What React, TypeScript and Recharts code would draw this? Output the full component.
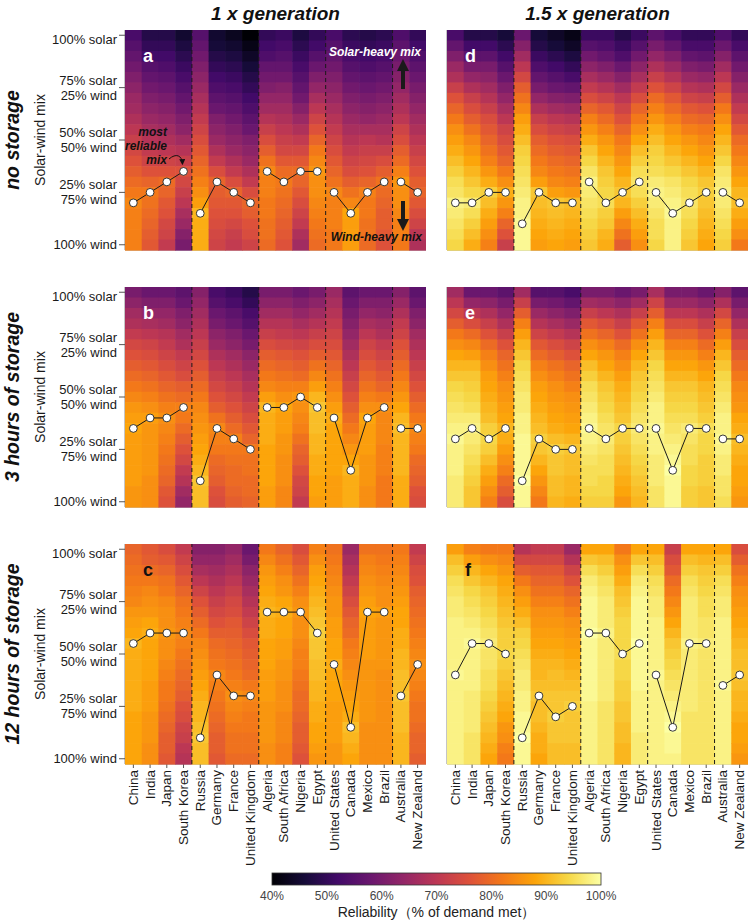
import React from 'react';
import { ComposedChart, Scatter, XAxis, YAxis } from 'recharts';

const FONT = '"Liberation Sans", Arial, Helvetica, sans-serif';

const COUNTRIES = [
  'China', 'India', 'Japan', 'South Korea',
  'Russia', 'Germany', 'France', 'United Kingdom',
  'Algeria', 'South Africa', 'Nigeria', 'Egypt',
  'United States', 'Canada', 'Mexico', 'Brazil',
  'Australia', 'New Zealand',
];
const GROUPS = [[0, 1, 2, 3], [4, 5, 6, 7], [8, 9, 10, 11], [12, 13, 14, 15], [16, 17]];
const GROUP_BREAKS = [3.5, 7.5, 11.5, 15.5];
// solar share of each heatmap row, top row first
const SOLAR_SHARE = [100, 95, 90, 85, 80, 75, 70, 65, 60, 55, 50, 45, 40, 35, 30, 25, 20, 15, 10, 5, 0];
const MIX_TICKS = [0, 25, 50, 75, 100];
const COLORBAR_TICKS = [40, 50, 60, 70, 80, 90, 100];

// reliability (% of demand met): one array per country, rows from 100% solar down to 100% wind
const RELIABILITY_NONE_1X = [
  [53, 55, 57, 59, 61, 63, 65, 66, 68, 70, 72, 74, 76, 78, 80, 82, 84, 83, 83, 83, 83],
  [48, 50, 52, 55, 57, 59, 61, 63, 65, 67, 69, 71, 73, 76, 79, 82, 81, 80, 79, 78, 77],
  [48, 50, 52, 54, 56, 58, 60, 62, 64, 66, 68, 70, 73, 76, 80, 79, 77, 76, 74, 73, 71],
  [45, 47, 49, 51, 53, 55, 57, 59, 61, 63, 66, 69, 72, 76, 74, 72, 70, 67, 65, 62, 60],
  [55, 57, 59, 61, 63, 65, 67, 69, 71, 73, 75, 77, 79, 81, 83, 85, 87, 90, 89, 89, 89],
  [45, 46, 48, 50, 52, 54, 56, 58, 61, 63, 65, 68, 71, 75, 79, 78, 77, 76, 75, 74, 73],
  [43, 45, 47, 49, 51, 53, 55, 57, 59, 61, 63, 65, 68, 71, 75, 79, 77, 76, 74, 72, 71],
  [40, 42, 44, 46, 48, 50, 52, 54, 56, 58, 61, 63, 65, 68, 71, 75, 79, 78, 76, 75, 73],
  [50, 52, 54, 57, 59, 61, 64, 66, 69, 72, 75, 78, 81, 84, 83, 83, 82, 82, 81, 81, 80],
  [51, 53, 55, 57, 59, 62, 64, 66, 68, 70, 72, 74, 77, 80, 82, 81, 80, 79, 78, 77, 76],
  [47, 49, 51, 53, 55, 57, 59, 62, 65, 68, 71, 74, 77, 80, 79, 77, 75, 73, 71, 68, 66],
  [50, 52, 55, 58, 61, 64, 67, 70, 73, 76, 79, 82, 84, 86, 85, 85, 84, 83, 82, 81, 80],
  [53, 55, 57, 59, 61, 63, 65, 67, 69, 71, 73, 75, 77, 79, 81, 84, 83, 83, 83, 82, 82],
  [49, 51, 53, 55, 57, 59, 61, 63, 65, 67, 69, 71, 73, 75, 78, 81, 84, 88, 87, 87, 87],
  [48, 50, 52, 54, 56, 58, 60, 62, 64, 67, 70, 72, 74, 76, 79, 83, 82, 82, 81, 81, 80],
  [49, 51, 53, 55, 57, 59, 61, 63, 65, 67, 69, 72, 75, 78, 81, 80, 79, 78, 78, 77, 76],
  [54, 56, 58, 60, 62, 64, 66, 68, 70, 73, 75, 78, 80, 83, 86, 85, 85, 84, 83, 83, 82],
  [50, 52, 54, 56, 58, 60, 62, 64, 66, 68, 70, 72, 74, 76, 78, 79, 77, 75, 73, 70, 68],
];

const RELIABILITY_NONE_15X = [
  [53, 57, 61, 65, 68, 72, 76, 79, 82, 85, 87, 89, 91, 93, 95, 96, 98, 97, 96, 95, 94],
  [48, 52, 56, 60, 64, 68, 72, 75, 78, 81, 84, 86, 88, 90, 92, 94, 97, 95, 93, 91, 89],
  [48, 52, 56, 60, 63, 66, 69, 72, 75, 77, 79, 81, 83, 86, 89, 93, 91, 89, 87, 85, 83],
  [46, 49, 52, 55, 58, 61, 64, 67, 70, 73, 75, 77, 79, 82, 85, 89, 86, 83, 79, 76, 72],
  [58, 62, 66, 70, 74, 78, 81, 84, 87, 89, 91, 93, 94, 95, 96, 97, 98, 98, 99, 99, 99],
  [46, 48, 51, 54, 57, 60, 64, 68, 72, 75, 78, 80, 82, 84, 87, 92, 91, 90, 89, 88, 87],
  [44, 46, 49, 52, 55, 58, 62, 66, 70, 73, 76, 78, 80, 82, 84, 87, 92, 91, 90, 89, 88],
  [42, 44, 47, 50, 53, 57, 61, 65, 69, 72, 75, 77, 79, 81, 83, 86, 91, 90, 89, 88, 87],
  [51, 55, 59, 63, 67, 71, 75, 79, 83, 86, 89, 92, 94, 96, 98, 97, 96, 95, 94, 93, 92],
  [51, 54, 57, 61, 65, 69, 73, 77, 80, 83, 86, 88, 90, 92, 93, 94, 95, 93, 92, 90, 89],
  [48, 51, 54, 58, 62, 66, 70, 73, 76, 79, 82, 84, 86, 88, 90, 92, 90, 87, 84, 81, 78],
  [51, 55, 59, 63, 67, 71, 75, 79, 82, 85, 88, 91, 93, 95, 96, 95, 93, 91, 89, 87, 85],
  [56, 60, 64, 68, 72, 76, 80, 83, 86, 89, 91, 93, 94, 95, 97, 98, 97, 96, 95, 95, 94],
  [53, 57, 61, 65, 69, 73, 77, 80, 83, 86, 88, 90, 92, 94, 96, 97, 98, 99, 98, 98, 98],
  [50, 53, 57, 61, 65, 69, 73, 77, 80, 83, 86, 88, 90, 92, 94, 95, 96, 95, 94, 93, 92],
  [50, 53, 56, 60, 64, 68, 72, 76, 79, 82, 84, 86, 88, 90, 92, 93, 92, 91, 90, 89, 88],
  [54, 58, 62, 66, 70, 74, 78, 82, 85, 88, 90, 92, 94, 96, 97, 98, 97, 96, 95, 94, 93],
  [50, 53, 56, 59, 62, 65, 68, 71, 74, 77, 80, 82, 84, 86, 88, 90, 91, 89, 87, 85, 82],
];

const RELIABILITY_3H_1X = [
  [60, 63, 66, 68, 71, 74, 76, 78, 80, 82, 84, 86, 87, 88, 87, 87, 87, 87, 87, 86, 86],
  [58, 61, 64, 67, 70, 73, 75, 77, 79, 81, 83, 85, 87, 86, 86, 86, 86, 86, 85, 85, 85],
  [58, 61, 64, 66, 69, 71, 73, 75, 77, 79, 81, 83, 85, 84, 83, 82, 81, 80, 79, 77, 76],
  [56, 58, 61, 63, 66, 68, 71, 73, 75, 78, 80, 83, 82, 80, 78, 76, 74, 71, 69, 66, 64],
  [62, 64, 66, 68, 70, 72, 74, 76, 78, 80, 82, 84, 85, 86, 87, 88, 89, 90, 92, 91, 91],
  [53, 55, 58, 60, 63, 65, 68, 70, 72, 74, 76, 78, 81, 84, 83, 82, 80, 79, 78, 76, 75],
  [51, 53, 56, 58, 61, 63, 66, 68, 70, 72, 74, 76, 78, 80, 83, 82, 81, 80, 80, 79, 78],
  [48, 50, 53, 55, 58, 60, 63, 65, 67, 69, 71, 73, 75, 77, 79, 82, 81, 81, 80, 80, 79],
  [60, 63, 66, 69, 72, 75, 78, 80, 82, 84, 87, 90, 89, 89, 89, 88, 88, 88, 88, 87, 87],
  [60, 63, 66, 69, 71, 74, 77, 79, 81, 83, 85, 88, 87, 87, 86, 86, 85, 85, 85, 84, 84],
  [58, 61, 64, 67, 70, 73, 76, 78, 80, 83, 86, 85, 84, 83, 81, 79, 78, 76, 74, 73, 71],
  [60, 63, 66, 69, 72, 75, 78, 81, 84, 87, 90, 92, 91, 91, 90, 90, 89, 89, 88, 88, 87],
  [65, 67, 69, 71, 73, 75, 77, 79, 81, 83, 85, 87, 89, 88, 88, 88, 88, 88, 87, 87, 87],
  [56, 58, 60, 62, 64, 66, 68, 70, 72, 74, 76, 78, 80, 82, 84, 86, 88, 90, 89, 89, 89],
  [58, 61, 64, 67, 70, 73, 75, 77, 79, 81, 83, 85, 88, 87, 87, 87, 86, 86, 86, 85, 85],
  [58, 61, 63, 66, 68, 71, 73, 75, 77, 79, 82, 85, 84, 84, 84, 83, 83, 83, 82, 82, 82],
  [62, 65, 68, 71, 73, 76, 78, 80, 82, 84, 86, 88, 90, 91, 90, 90, 90, 90, 89, 89, 89],
  [56, 58, 61, 63, 66, 68, 70, 72, 74, 76, 78, 80, 82, 84, 83, 82, 80, 79, 78, 76, 75],
];

const RELIABILITY_3H_15X = [
  [66, 70, 74, 78, 82, 85, 88, 90, 92, 94, 95, 96, 97, 98, 99, 98, 98, 98, 97, 97, 97],
  [58, 64, 70, 75, 80, 84, 87, 90, 92, 93, 94, 95, 97, 98, 97, 96, 95, 94, 93, 92, 92],
  [58, 63, 68, 72, 76, 80, 83, 85, 87, 88, 89, 90, 91, 93, 94, 93, 91, 89, 87, 85, 83],
  [56, 60, 64, 68, 72, 76, 79, 81, 83, 85, 86, 87, 88, 90, 89, 87, 85, 83, 80, 78, 75],
  [66, 72, 78, 83, 87, 90, 92, 94, 95, 96, 97, 97, 98, 98, 99, 99, 99, 99, 100, 99, 99],
  [55, 60, 65, 69, 73, 77, 80, 83, 85, 87, 88, 89, 90, 91, 93, 92, 90, 88, 86, 84, 82],
  [55, 59, 63, 67, 71, 75, 78, 81, 83, 85, 86, 87, 88, 89, 91, 93, 92, 92, 91, 91, 90],
  [53, 57, 61, 65, 69, 73, 76, 79, 81, 83, 85, 86, 87, 88, 90, 92, 91, 91, 90, 90, 89],
  [60, 66, 72, 77, 81, 85, 88, 91, 93, 95, 96, 97, 98, 99, 98, 97, 96, 95, 95, 94, 93],
  [60, 65, 70, 75, 79, 83, 86, 88, 90, 92, 93, 94, 95, 96, 97, 96, 95, 95, 94, 94, 93],
  [58, 63, 68, 72, 76, 80, 83, 85, 87, 89, 90, 91, 92, 94, 93, 92, 91, 90, 89, 88, 86],
  [60, 66, 72, 77, 81, 85, 88, 90, 92, 93, 94, 95, 96, 97, 96, 95, 94, 93, 92, 91, 90],
  [67, 73, 78, 83, 87, 90, 92, 94, 95, 96, 97, 98, 98, 99, 98, 98, 97, 97, 97, 96, 96],
  [60, 65, 70, 75, 79, 83, 86, 88, 90, 92, 93, 94, 95, 96, 97, 98, 99, 100, 99, 99, 99],
  [60, 65, 70, 75, 79, 83, 86, 88, 90, 92, 93, 94, 95, 97, 96, 95, 95, 94, 94, 93, 93],
  [58, 63, 68, 72, 76, 80, 83, 86, 88, 90, 91, 92, 93, 95, 94, 94, 93, 93, 93, 92, 92],
  [62, 68, 74, 79, 83, 87, 90, 92, 94, 95, 96, 97, 98, 98, 99, 98, 97, 97, 96, 96, 95],
  [56, 60, 64, 68, 72, 75, 78, 80, 82, 84, 85, 86, 88, 89, 91, 90, 89, 88, 88, 87, 86],
];

const RELIABILITY_12H_1X = [
  [79, 80, 81, 82, 83, 84, 86, 87, 88, 90, 89, 89, 89, 89, 89, 89, 88, 88, 88, 88, 88],
  [77, 78, 80, 82, 84, 85, 86, 88, 89, 88, 88, 88, 88, 87, 87, 87, 86, 86, 86, 85, 85],
  [75, 77, 79, 81, 82, 84, 85, 85, 86, 85, 85, 84, 83, 82, 82, 81, 80, 79, 78, 78, 77],
  [71, 73, 75, 77, 79, 81, 82, 83, 84, 83, 82, 81, 80, 79, 78, 76, 75, 73, 72, 70, 69],
  [62, 64, 67, 70, 73, 76, 78, 80, 82, 84, 85, 86, 87, 88, 89, 90, 90, 91, 92, 91, 91],
  [62, 64, 66, 68, 70, 72, 74, 76, 78, 80, 81, 82, 84, 83, 82, 81, 80, 79, 78, 78, 77],
  [64, 66, 68, 70, 72, 74, 75, 77, 78, 79, 80, 81, 82, 83, 85, 84, 83, 82, 81, 81, 80],
  [58, 60, 63, 65, 67, 69, 71, 73, 75, 77, 78, 79, 80, 82, 84, 83, 82, 82, 81, 81, 80],
  [82, 84, 86, 87, 88, 89, 90, 89, 89, 88, 88, 88, 87, 87, 87, 86, 86, 86, 86, 85, 85],
  [79, 81, 83, 85, 86, 88, 89, 88, 88, 87, 87, 86, 86, 85, 85, 85, 84, 84, 84, 83, 83],
  [75, 77, 79, 81, 83, 85, 86, 85, 85, 84, 83, 83, 82, 81, 80, 80, 79, 78, 78, 77, 76],
  [83, 85, 87, 88, 89, 90, 91, 92, 93, 92, 92, 91, 91, 90, 90, 89, 89, 88, 88, 87, 86],
  [81, 82, 83, 84, 85, 86, 86, 87, 87, 88, 88, 89, 88, 88, 88, 87, 87, 87, 87, 86, 86],
  [65, 67, 69, 71, 73, 75, 77, 79, 80, 82, 83, 84, 85, 86, 87, 88, 89, 91, 90, 89, 88],
  [81, 83, 84, 85, 86, 87, 88, 87, 87, 87, 87, 86, 86, 86, 86, 86, 86, 85, 85, 85, 85],
  [81, 82, 83, 84, 85, 85, 87, 86, 86, 86, 86, 86, 85, 85, 85, 85, 85, 85, 85, 85, 85],
  [82, 83, 84, 85, 86, 87, 88, 88, 89, 89, 90, 90, 91, 91, 92, 91, 91, 91, 90, 90, 90],
  [71, 73, 75, 76, 78, 79, 80, 81, 82, 83, 84, 85, 84, 83, 82, 81, 81, 80, 79, 79, 78],
];

const RELIABILITY_12H_15X = [
  [87, 91, 93, 95, 96, 97, 97, 98, 98, 98, 98, 98, 99, 98, 98, 98, 98, 98, 98, 98, 98],
  [83, 87, 90, 92, 94, 95, 96, 97, 98, 99, 98, 98, 98, 98, 97, 97, 97, 97, 96, 96, 96],
  [82, 85, 88, 90, 92, 93, 94, 95, 96, 97, 96, 96, 95, 95, 94, 93, 92, 91, 90, 89, 88],
  [82, 84, 86, 88, 89, 90, 91, 92, 93, 93, 94, 93, 92, 91, 90, 89, 88, 86, 85, 83, 82],
  [69, 74, 78, 82, 85, 87, 89, 91, 93, 94, 95, 96, 97, 97, 98, 98, 99, 99, 100, 99, 99],
  [71, 74, 77, 79, 81, 83, 85, 86, 87, 88, 89, 90, 90, 91, 92, 91, 91, 90, 89, 89, 88],
  [71, 74, 77, 79, 81, 83, 85, 86, 87, 88, 89, 90, 91, 91, 92, 92, 93, 92, 92, 91, 91],
  [65, 69, 73, 76, 79, 81, 83, 85, 86, 87, 88, 89, 90, 91, 92, 93, 92, 92, 92, 91, 91],
  [88, 92, 95, 97, 98, 99, 99, 99, 100, 99, 99, 99, 99, 99, 99, 98, 98, 98, 98, 98, 98],
  [88, 91, 93, 95, 96, 97, 97, 97, 98, 97, 97, 97, 97, 97, 97, 96, 96, 96, 96, 96, 96],
  [82, 85, 87, 89, 91, 92, 93, 94, 94, 94, 95, 94, 94, 93, 93, 92, 92, 91, 91, 90, 90],
  [88, 92, 95, 97, 98, 99, 99, 99, 99, 100, 99, 99, 99, 99, 98, 98, 98, 98, 97, 97, 97],
  [88, 91, 93, 95, 96, 97, 97, 98, 98, 98, 98, 98, 99, 98, 98, 98, 98, 98, 98, 98, 98],
  [72, 75, 77, 80, 82, 84, 86, 88, 90, 92, 93, 94, 95, 96, 97, 98, 99, 100, 99, 99, 98],
  [88, 91, 93, 95, 96, 97, 97, 97, 97, 98, 97, 97, 97, 97, 97, 97, 96, 96, 96, 96, 96],
  [88, 90, 92, 93, 94, 95, 95, 96, 96, 97, 96, 96, 96, 96, 96, 96, 96, 96, 96, 96, 96],
  [88, 91, 93, 95, 96, 97, 97, 98, 98, 98, 98, 98, 98, 99, 98, 98, 98, 98, 98, 98, 98],
  [75, 78, 81, 83, 85, 86, 87, 88, 89, 90, 91, 91, 92, 91, 90, 90, 89, 88, 88, 87, 86],
];

// most reliable mix (% solar) per country
const BEST_NONE_1X = [20, 25, 30, 35, 15, 30, 25, 20, 35, 30, 35, 35, 25, 15, 25, 30, 30, 25];
const BEST_NONE_15X = [20, 20, 25, 25, 10, 25, 20, 20, 30, 20, 25, 30, 25, 15, 20, 25, 25, 20];
const BEST_3H_1X = [35, 40, 40, 45, 10, 35, 30, 25, 45, 45, 50, 45, 40, 15, 40, 45, 35, 35];
const BEST_3H_15X = [30, 35, 30, 35, 10, 30, 25, 25, 35, 30, 35, 35, 35, 15, 35, 35, 30, 30];
const BEST_12H_1X = [55, 60, 60, 60, 10, 40, 30, 30, 70, 70, 70, 60, 45, 15, 70, 70, 30, 45];
const BEST_12H_15X = [40, 55, 55, 50, 10, 30, 20, 25, 60, 60, 50, 55, 40, 15, 55, 55, 35, 40];

const INFERNO = ['#000004', '#160b39', '#420a68', '#6a176e', '#932667', '#bc3754', '#dd513a', '#f37819', '#fca50a', '#f6d746', '#fcffa4'];

const hexRgb = (h: string) => [1, 3, 5].map((k) => parseInt(h.slice(k, k + 2), 16));

function inferno(v: number) {
  const t = Math.max(0, Math.min(1, (v - 40) / 60)) * 10;
  const i = Math.min(9, Math.floor(t));
  const f = t - i;
  const a = hexRgb(INFERNO[i]);
  const b = hexRgb(INFERNO[i + 1]);
  const c = a.map((x, k) => Math.round(x + (b[k] - x) * f));
  return `rgb(${c[0]},${c[1]},${c[2]})`;
}

const PLOT_W = 301;
const PLOT_H = 220;
const ROW_TOPS = [30, 287, 544];
const COL_LEFTS = [0, 446];
const Y_AXIS_W = [125, 1];
const Y_DOMAIN = [-2.5, 102.5];

const PANELS = [
  { grid: RELIABILITY_NONE_1X, best: BEST_NONE_1X, col: 0, row: 0, letter: 'a', letterColor: '#fff' },
  { grid: RELIABILITY_3H_1X, best: BEST_3H_1X, col: 0, row: 1, letter: 'b', letterColor: '#fff' },
  { grid: RELIABILITY_12H_1X, best: BEST_12H_1X, col: 0, row: 2, letter: 'c', letterColor: '#111' },
  { grid: RELIABILITY_NONE_15X, best: BEST_NONE_15X, col: 1, row: 0, letter: 'd', letterColor: '#fff' },
  { grid: RELIABILITY_3H_15X, best: BEST_3H_15X, col: 1, row: 1, letter: 'e', letterColor: '#fff' },
  { grid: RELIABILITY_12H_15X, best: BEST_12H_15X, col: 1, row: 2, letter: 'f', letterColor: '#111' },
];

const ROW_TITLES = ['no storage', '3 hours of storage', '12 hours of storage'];
const COL_TITLES = ['1 x generation', '1.5 x generation'];

const MixTick = (p: any) => {
  const v = p.payload.value;
  const lines = v === 100 ? ['100% solar'] : v === 0 ? ['100% wind'] : [`${v}% solar`, `${100 - v}% wind`];
  const dy = lines.length === 1 ? [0] : [-7.5, 7.5];
  return (
    <g>
      {lines.map((t, i) => (
        <text key={i} x={p.x} y={p.y + dy[i]} textAnchor="end" dominantBaseline="central" fontSize={13} fontFamily={FONT} fill="#1a1a1a">
          {t}
        </text>
      ))}
    </g>
  );
};

const CountryTick = (p: any) => (
  <text
    transform={`translate(${p.x},${p.y}) rotate(-90)`}
    textAnchor="end"
    dominantBaseline="central"
    fontSize={13.5}
    fontFamily={FONT}
    fill="#1a1a1a"
  >
    {COUNTRIES[p.payload.value]}
  </text>
);

function Panel({ grid, best, col, row }: any) {
  const yw = Y_AXIS_W[col];
  const withNames = row === 2;
  const xh = withNames ? 110 : 8;
  const cellW = PLOT_W / COUNTRIES.length;
  const cellH = PLOT_H / SOLAR_SHARE.length;
  const cells = grid.flatMap((colVals: number[], i: number) =>
    colVals.map((v, j) => ({ x: i, y: SOLAR_SHARE[j], v }))
  );
  return (
    <div style={{ position: 'absolute', left: COL_LEFTS[col], top: ROW_TOPS[row] }}>
      <ComposedChart width={yw + PLOT_W} height={PLOT_H + xh} margin={{ top: 0, right: 0, bottom: 0, left: 0 }}>
        <XAxis
          type="number"
          dataKey="x"
          domain={[-0.5, COUNTRIES.length - 0.5]}
          ticks={COUNTRIES.map((_, i) => i)}
          interval={0}
          height={xh}
          tickSize={4}
          tickLine={{ stroke: '#555' }}
          axisLine={{ stroke: '#8a8a8a' }}
          tick={withNames ? <CountryTick /> : false}
        />
        <YAxis
          type="number"
          dataKey="y"
          domain={Y_DOMAIN}
          ticks={MIX_TICKS}
          width={yw}
          tickSize={6}
          tickLine={col === 0 ? { stroke: '#555' } : false}
          axisLine={{ stroke: '#8a8a8a' }}
          tick={col === 0 ? <MixTick /> : false}
        />
        <Scatter
          data={cells}
          isAnimationActive={false}
          shape={(p: any) => (
            <rect
              x={p.cx - cellW / 2}
              y={p.cy - cellH / 2}
              width={cellW + 0.6}
              height={cellH + 0.6}
              fill={inferno(p.payload.v)}
            />
          )}
        />
        {/* dashed separators between regions */}
        {GROUP_BREAKS.map((b) => (
          <Scatter
            key={`sep-${b}`}
            data={Y_DOMAIN.map((y) => ({ x: b, y }))}
            isAnimationActive={false}
            line={{ stroke: '#1a1a1a', strokeWidth: 1, strokeDasharray: '4 3' }}
            lineType="joint"
            shape={() => <g />}
          />
        ))}
        {GROUPS.map((g, k) => (
          <Scatter
            key={k}
            data={g.map((i) => ({ x: i, y: best[i] }))}
            isAnimationActive={false}
            line={{ stroke: '#1a1a1a', strokeWidth: 1 }}
            lineType="joint"
            shape={(p: any) => <circle cx={p.cx} cy={p.cy} r={3.9} fill="#fff" stroke="#222" strokeWidth={0.9} />}
          />
        ))}
      </ComposedChart>
    </div>
  );
}

export default function App() {
  const barX0 = 272;
  const barX1 = 601;
  const barW = barX1 - barX0;
  const plotLeft = (col: number) => COL_LEFTS[col] + Y_AXIS_W[col];
  return (
    <div style={{ position: 'absolute', left: 0, top: 0, width: 748, height: 920, background: '#fff', fontFamily: FONT }}>
      {PANELS.map((p) => (
        <Panel key={p.letter} {...p} />
      ))}
      <svg width={748} height={920} style={{ position: 'absolute', left: 0, top: 0, pointerEvents: 'none' }}>
        <defs>
          <linearGradient id="inferno" x1="0" x2="1" y1="0" y2="0">
            {INFERNO.map((c, i) => (
              <stop key={i} offset={`${i * 10}%`} stopColor={c} />
            ))}
          </linearGradient>
          <marker id="ah" viewBox="0 0 10 10" refX="8" refY="5" markerWidth="6" markerHeight="6" orient="auto">
            <path d="M0,0 L10,5 L0,10 z" fill="#111" />
          </marker>
        </defs>

        {COL_TITLES.map((t, c) => (
          <text key={t} x={plotLeft(c) + PLOT_W / 2} y={13} textAnchor="middle" dominantBaseline="central" fontSize={19} fontWeight="bold" fontStyle="italic" fill="#111">
            {t}
          </text>
        ))}

        {ROW_TITLES.map((t, r) => {
          const cy = ROW_TOPS[r] + PLOT_H / 2;
          return (
            <g key={t}>
              <text transform={`translate(12,${cy}) rotate(-90)`} textAnchor="middle" dominantBaseline="central" fontSize={19.5} fontWeight="bold" fontStyle="italic" fill="#111">
                {t}
              </text>
              <text transform={`translate(40,${cy}) rotate(-90)`} textAnchor="middle" dominantBaseline="central" fontSize={14} fill="#1a1a1a">
                Solar-wind mix
              </text>
            </g>
          );
        })}

        {PANELS.map((p) => (
          <text key={p.letter} x={plotLeft(p.col) + 18} y={ROW_TOPS[p.row] + 32} fontSize={18} fontWeight="bold" fill={p.letterColor}>
            {p.letter}
          </text>
        ))}

        {/* panel a annotations */}
        <g fontSize={12} fontWeight="bold" fontStyle="italic" fill="#111" textAnchor="end">
          <text x={167} y={136}>most</text>
          <text x={167} y={150}>reliable</text>
          <text x={167} y={164}>mix</text>
        </g>
        <path d="M169,159 C176,153 182,155 182.5,164" fill="none" stroke="#111" strokeWidth={1} markerEnd="url(#ah)" />
        <text x={421} y={56} textAnchor="end" fontSize={12} fontWeight="bold" fontStyle="italic" fill="#fff">
          Solar-heavy mix
        </text>
        <line x1={403} y1={89} x2={403} y2={68} stroke="#1a1a1a" strokeWidth={4} />
        <polygon points="397,71 409,71 403,59" fill="#1a1a1a" />
        <line x1={403} y1={201} x2={403} y2={222} stroke="#1a1a1a" strokeWidth={4} />
        <polygon points="397,219 409,219 403,231" fill="#1a1a1a" />
        <text x={422} y={241} textAnchor="end" fontSize={12} fontWeight="bold" fontStyle="italic" fill="#111">
          Wind-heavy mix
        </text>

        {/* colour bar */}
        <rect x={barX0} y={873} width={barW} height={12} fill="url(#inferno)" stroke="#333" strokeWidth={0.8} />
        {COLORBAR_TICKS.map((t) => (
          <text key={t} x={barX0 + ((t - 40) / 60) * barW} y={896} textAnchor="middle" dominantBaseline="central" fontSize={12} fill="#444">
            {`${t}%`}
          </text>
        ))}
        <text x={barX0 + barW / 2} y={912} textAnchor="middle" dominantBaseline="central" fontSize={14} fill="#222">
          Reliability（% of demand met）
        </text>
      </svg>
    </div>
  );
}
